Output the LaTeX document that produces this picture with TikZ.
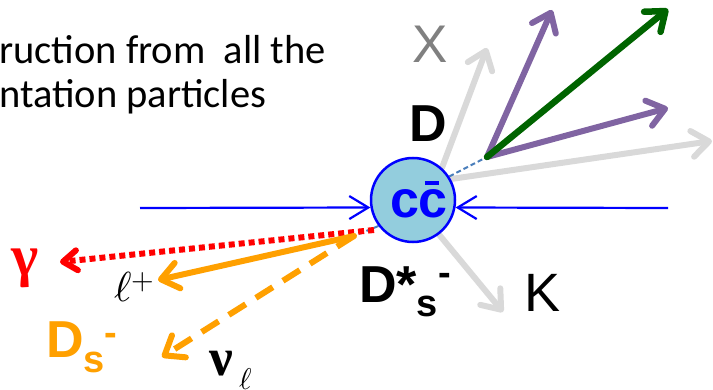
\documentclass[tikz,border=0pt]{standalone}
\usepackage{fontspec}
\setmainfont{Liberation Sans}
\newfontfamily\calfont{Carlito}
\newfontfamily\serfont{Liberation Serif}
\newfontfamily\mathfnt{Latin Modern Math}
\usetikzlibrary{arrows.meta,backgrounds}
\definecolor{ccfill}{RGB}{147,205,221}
\definecolor{lgray}{RGB}{217,217,217}
\definecolor{purp}{RGB}{128,100,162}
\definecolor{dgreen}{RGB}{0,100,0}
\definecolor{orng}{RGB}{255,160,0}
\definecolor{steel}{RGB}{74,126,187}
\definecolor{xgray}{RGB}{128,128,128}
\definecolor{ccblue}{RGB}{0,0,255}
\tikzset{
  beam/.style={ccblue, line width=2.2pt, -{Straight Barb[length=19pt,width=23pt]}},
  trk/.style={line width=6pt, line cap=round, -{Straight Barb[round,length=17pt,width=26pt]}},
  flight/.style={steel, line width=2pt, dash pattern=on 5pt off 3pt},
  lbl/.style={inner sep=0pt, anchor=base west},
}
\begin{document}
\begin{tikzpicture}[x=1pt,y=-1pt]
\useasboundingbox (0,0) rectangle (713,390);
\clip (0,0) rectangle (713,390);
% text
\node[lbl, font=\calfont\fontsize{40.5}{40.5}\selectfont] (t1) at (-1,64) {ruction from\ \ all the};
\node[lbl, font=\calfont\fontsize{40.5}{40.5}\selectfont] (t2) at (-1,108) {ntation particles};
% circle
\node[circle, draw=ccblue, line width=2.5pt, fill=ccfill, minimum size=84pt, inner sep=0pt] (cc) at (413,200) {};
\node[inner sep=0pt, anchor=base, text=ccblue, font=\bfseries\fontsize{52}{52}\selectfont] (cctxt) at (419,218) {c\ooalign{c\cr\hidewidth\rule[33pt]{14pt}{3.5pt}\hspace{3pt}\hidewidth\cr}};
\coordinate (dv) at (487,157);
\coordinate (dsv) at (354,236);
\coordinate (gs) at (374,230);
\coordinate (bl) at (140,208);
\coordinate (br) at (668,208);
\coordinate (xt) at (487,48);
\coordinate (rt) at (712,141);
\coordinate (kt) at (503,312);
\coordinate (p1) at (552,10);
\coordinate (p2) at (668,108);
\coordinate (g1) at (668,9);
\coordinate (gam) at (60,262);
\coordinate (lt) at (158,280);
\coordinate (nt) at (162,357);
\begin{scope}[on background layer]
\draw[trk, lgray] (cc.48) -- (xt);
\draw[trk, lgray] (cc.29) -- (rt);
\draw[trk, lgray] (cc.-53) -- (kt);
\draw[flight] (cc.33) -- (dv);
\draw[flight] (cc.217) -- (dsv);
\end{scope}
\draw[trk, purp] (dv) -- (p1);
\draw[trk, purp] (dv) -- (p2);
\draw[trk, dgreen, line width=6.5pt] (dv) -- (g1);
\draw[beam] (bl) -- (cc.190);
\draw[beam] (br) -- (cc.-10);
\draw[red, line width=6pt, dash pattern=on 6pt off 4pt, -{Straight Barb[round,length=14pt,width=20pt]}] (gs) -- (gam);
\draw[trk, orng] (dsv) -- (lt);
\draw[trk, orng, dash pattern=on 20pt off 12pt, line cap=butt] (dsv) -- (nt);
% labels
\node[lbl, text=xgray, font=\fontsize{53}{53}\selectfont] (X) at (412,63) {X};
\node[lbl, font=\bfseries\fontsize{52}{52}\selectfont] (D) at (409,142) {D};
\node[lbl, font=\fontsize{54}{54}\selectfont] (K) at (524,312) {K};
\node[lbl, font=\bfseries\fontsize{52}{52}\selectfont] (Dst) at (359,303) {D*\raisebox{-14pt}{\fontsize{38}{38}\selectfont s}\raisebox{17pt}{\fontsize{38}{38}\selectfont -}};
\node[lbl, text=orng, font=\bfseries\fontsize{52}{52}\selectfont] (Ds) at (46,358) {D\raisebox{-15pt}{\fontsize{38}{38}\selectfont s}\raisebox{12pt}{\fontsize{38}{38}\selectfont -}};
\node[lbl, text=red, font=\serfont\bfseries\fontsize{58}{58}\selectfont] (g) at (11,276) {γ};
\node[lbl, font=\mathfnt\fontsize{42}{42}\selectfont] (l) at (114,302) {ℓ\raisebox{13pt}{\fontsize{29}{29}\selectfont +}};
\node[lbl, font=\serfont\bfseries\fontsize{53}{53}\selectfont] (nu) at (209,375) {ν};
\node[lbl, font=\mathfnt\fontsize{30}{30}\selectfont] (nul) at (239,389) {ℓ};
\end{tikzpicture}
\end{document}
